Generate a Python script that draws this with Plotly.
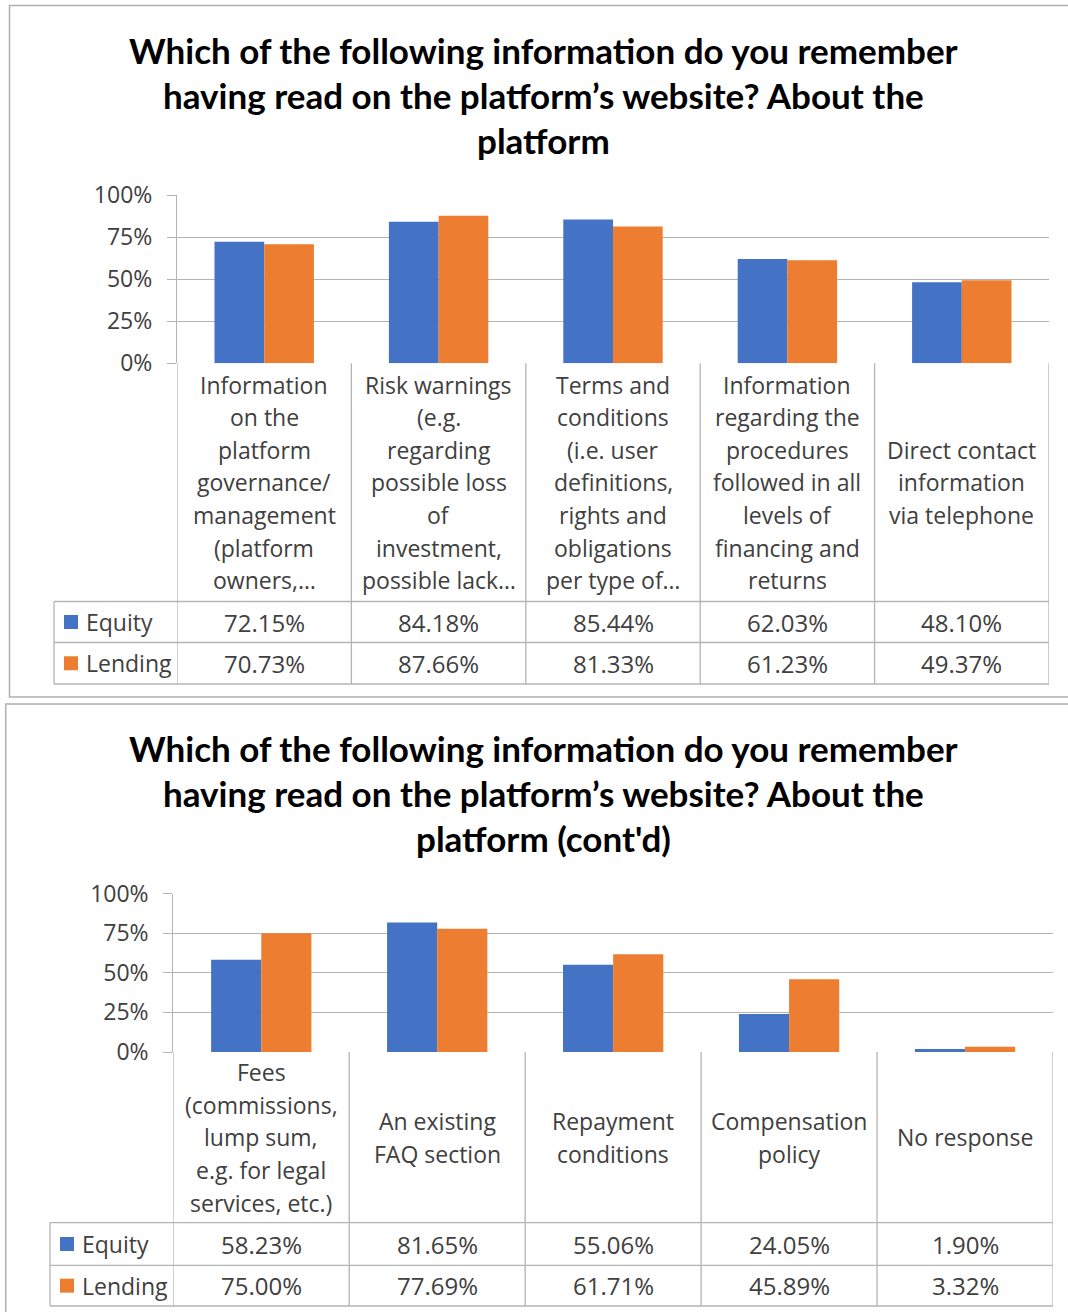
import plotly.graph_objects as go

# ---------------- data ----------------
series_names = ["Equity", "Lending"]

top_title = ["Which of the following information do you remember",
             "having read on the platform\u2019s website? About the",
             "platform"]
top_categories = [
    ["Information", "on the", "platform", "governance/", "management", "(platform", "owners,\u2026"],
    ["Risk warnings", "(e.g.", "regarding", "possible loss", "of", "investment,", "possible lack\u2026"],
    ["Terms and", "conditions", "(i.e. user", "definitions,", "rights and", "obligations", "per type of\u2026"],
    ["Information", "regarding the", "procedures", "followed in all", "levels of", "financing and", "returns"],
    ["Direct contact", "information", "via telephone"],
]
top_equity = [72.15, 84.18, 85.44, 62.03, 48.10]
top_lending = [70.73, 87.66, 81.33, 61.23, 49.37]

bot_title = ["Which of the following information do you remember",
             "having read on the platform\u2019s website? About the",
             "platform (cont'd)"]
bot_categories = [
    ["Fees", "(commissions,", "lump sum,", "e.g. for legal", "services, etc.)"],
    ["An existing", "FAQ section"],
    ["Repayment", "conditions"],
    ["Compensation", "policy"],
    ["No response"],
]
bot_equity = [58.23, 81.65, 55.06, 24.05, 1.90]
bot_lending = [75.00, 77.69, 61.71, 45.89, 3.32]

y_ticks = [0, 25, 50, 75, 100]
y_tick_text = ["0%", "25%", "50%", "75%", "100%"]

# ---------------- style / layout ----------------
W, H = 1068, 1312
BLUE = "#4472C4"
ORANGE = "#ED7D31"
GRID = "#b4b4b4"
TXT = "#404040"
FONT = "Open Sans"
TITLE_FONT = "Lato"
FS = 23


def px(x):
    return x / W


def py(y):
    return 1 - y / H


panels = [
    dict(title=top_title, cats=top_categories, vals=[top_equity, top_lending],
         xa="x", ya="y", left=177, right=1049, y0=363.3, y100=195,
         row1=601.5, row2=642.5, bottom=684, leg_left=54,
         title_y=[50, 95, 140], box=(9.5, 5.5, 1080, 697)),
    dict(title=bot_title, cats=bot_categories, vals=[bot_equity, bot_lending],
         xa="x2", ya="y2", left=173.3, right=1053, y0=1052, y100=893.5,
         row1=1222.7, row2=1265.3, bottom=1306, leg_left=50,
         title_y=[748, 793, 838], box=(5.7, 704, 1080, 1320)),
]

fig = go.Figure()
shapes = []
annotations = []
LINE = 32.6

for i, p in enumerate(panels):
    n = len(p["cats"])
    xs = list(range(n))
    for s, (name, col) in enumerate(zip(series_names, [BLUE, ORANGE])):
        fig.add_trace(go.Bar(x=xs, y=p["vals"][s], name=name, marker_color=col,
                             marker_line_width=0, xaxis=p["xa"], yaxis=p["ya"],
                             showlegend=False))
    sfx = "" if i == 0 else "2"
    fig.layout["xaxis" + sfx] = dict(
        domain=[px(p["left"]), px(p["right"])], range=[-0.5, n - 0.5],
        showticklabels=False, showgrid=False, zeroline=False, showline=False,
        anchor=p["ya"], fixedrange=True, automargin=False)
    fig.layout["yaxis" + sfx] = dict(
        domain=[py(p["y0"]), py(p["y100"])], range=[0, 100],
        tickmode="array", tickvals=y_ticks, ticktext=y_tick_text,
        showgrid=True, gridcolor=GRID, gridwidth=1.2,
        zeroline=False, showline=True, linecolor=GRID, linewidth=1.2,
        ticks="outside", ticklen=9, tickcolor=GRID, tickwidth=1.2,
        ticklabelstandoff=10,
        tickfont=dict(family=FONT, size=FS, color=TXT),
        anchor=p["xa"], fixedrange=True, automargin=False)

    # panel border
    bx0, by0, bx1, by1 = p["box"]
    shapes.append(dict(type="rect", xref="paper", yref="paper",
                       x0=px(bx0), x1=px(bx1), y0=py(by0), y1=py(by1),
                       line=dict(color="#b0b0b0", width=1.5), fillcolor="rgba(0,0,0,0)"))

    # title
    for k, line in enumerate(p["title"]):
        annotations.append(dict(text="<b>" + line + "</b>", xref="paper", yref="paper",
                                x=px(543.5), y=py(p["title_y"][k]), showarrow=False,
                                xanchor="center", yanchor="middle",
                                font=dict(family=TITLE_FONT, size=35, color="#000000")))

    # table lines
    lw = dict(color=GRID, width=1.3)
    for k in range(n + 1):
        xv = k - 0.5
        shapes.append(dict(type="line", xref=p["xa"], yref="paper", x0=xv, x1=xv,
                           y0=py(p["y0"]), y1=py(p["bottom"]), line=lw))
    for yy in [p["row1"], p["row2"], p["bottom"]]:
        shapes.append(dict(type="line", xref="paper", yref="paper",
                           x0=px(p["leg_left"]), x1=px(p["right"]),
                           y0=py(yy), y1=py(yy), line=lw))
    shapes.append(dict(type="line", xref="paper", yref="paper",
                       x0=px(p["leg_left"]), x1=px(p["leg_left"]),
                       y0=py(p["row1"]), y1=py(p["bottom"]), line=lw))

    # category labels
    mid = (p["y0"] + p["row1"]) / 2
    for c, lines in enumerate(p["cats"]):
        m = len(lines)
        for k, line in enumerate(lines):
            yy = mid + (k - (m - 1) / 2) * LINE
            annotations.append(dict(text=line, xref=p["xa"], yref="paper", x=c,
                                    y=py(yy), showarrow=False, xanchor="center",
                                    yanchor="middle",
                                    font=dict(family=FONT, size=FS, color=TXT)))

    # rows
    rows = [(p["row1"] + p["row2"]) / 2, (p["row2"] + p["bottom"]) / 2]
    for s, (name, col) in enumerate(zip(series_names, [BLUE, ORANGE])):
        ry = rows[s]
        sq_l = p["leg_left"] + 10
        shapes.append(dict(type="rect", xref="paper", yref="paper",
                           x0=px(sq_l), x1=px(sq_l + 14), y0=py(ry - 7), y1=py(ry + 7),
                           line=dict(width=0), fillcolor=col))
        annotations.append(dict(text=name, xref="paper", yref="paper", x=px(sq_l + 20),
                                y=py(ry), showarrow=False, xanchor="left", yanchor="middle",
                                font=dict(family=FONT, size=FS, color=TXT)))
        for c, v in enumerate(p["vals"][s]):
            annotations.append(dict(text=f"{v:.2f}%", xref=p["xa"], yref="paper", x=c,
                                    y=py(ry), showarrow=False, xanchor="center",
                                    yanchor="middle",
                                    font=dict(family=FONT, size=24, color=TXT)))

fig.update_layout(
    width=W, height=H, margin=dict(l=0, r=0, t=0, b=0, pad=0, autoexpand=False),
    paper_bgcolor="white", plot_bgcolor="white",
    barmode="group", bargap=0.43, bargroupgap=0,
    shapes=shapes, annotations=annotations, showlegend=False,
)

fig.write_html("out.html", config={"displayModeBar": False},
               post_script="document.body.style.margin='0';document.body.style.overflow='hidden';")
